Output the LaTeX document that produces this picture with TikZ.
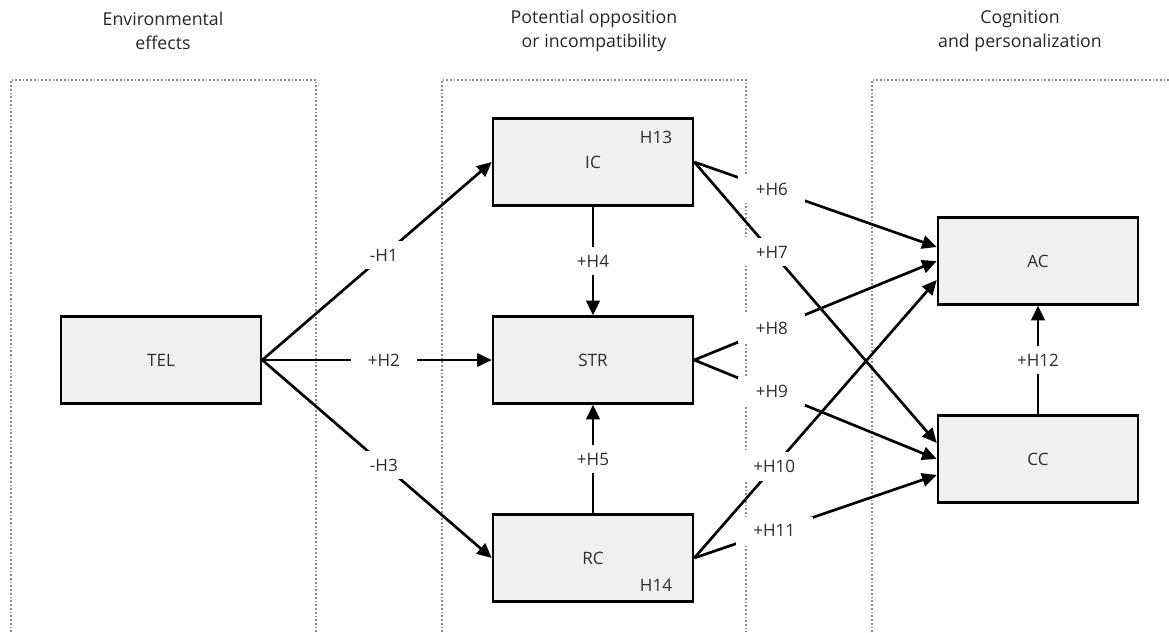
\documentclass[tikz,border=0pt]{standalone}
\usepackage{fontspec}
\setmainfont{Open Sans}
\usetikzlibrary{arrows.meta,calc}
\definecolor{boxfill}{HTML}{F0F0F0}
\definecolor{txt}{HTML}{2E2E2E}
\definecolor{grp}{HTML}{8C8C8C}
\begin{document}
\begin{tikzpicture}[x=0.75pt,y=-0.75pt,
  cbox/.style={draw=black,line width=1.9pt,fill=boxfill,minimum width=150pt,minimum height=65pt,inner sep=0pt,text=txt,font=\fontsize{12.8}{14}\selectfont},
  heading/.style={align=center,text=black!85,font=\fontsize{13.3}{18.5}\selectfont},
  grpline/.style={draw=grp,line width=1.6pt,dash pattern=on 1.3pt off 1.5pt},
  conn/.style={line width=2pt,-{Triangle[length=11pt,width=10pt]}},
  lbl/.style={fill=white,text=txt,inner xsep=13pt,inner ysep=6pt,font=\fontsize{12.8}{14}\selectfont},
  tag/.style={text=txt,font=\fontsize{12.8}{14}\selectfont,inner sep=0pt}]
\useasboundingbox (0,0) rectangle (1169,632);
% groups
\draw[grpline] (11,632) -- (11,80) -- (316,80) -- (316,632);
\draw[grpline] (442,632) -- (442,80) -- (746,80) -- (746,632);
\draw[grpline] (872,632) -- (872,80) -- (1169,80);
\node[heading] (h1) at (163,31) {Environmental\\effects};
\node[heading] (h2) at (594,31) {Potential opposition\\or incompatibility};
\node[heading] (h3) at (1020,31) {Cognition\\and personalization};
% nodes
\node[cbox] (TEL) at (161,360) {TEL};
\node[cbox] (IC) at (593,162) {IC};
\node[cbox] (STR) at (593,360) {STR};
\node[cbox] (RC) at (593,558) {RC};
\node[cbox] (AC) at (1038,261) {AC};
\node[cbox] (CC) at (1038,459) {CC};
\node[tag] (t13) at (656,137) {H13};
\node[tag] (t14) at (656,585) {H14};
% connectors
\draw[conn] (TEL.east) -- node[lbl,pos=0.53] {-H1} (IC.west);
\draw[conn] (TEL.east) -- node[lbl,pos=0.53] {+H2} (STR.west);
\draw[conn] (TEL.east) -- node[lbl,pos=0.53] {-H3} (RC.west);
\draw[conn] (IC.south) -- node[lbl] {+H4} (STR.north);
\draw[conn] (RC.north) -- node[lbl] {+H5} (STR.south);
\draw[conn] (IC.east) -- node[lbl,pos=0.32] {+H6} ($(AC.west)+(0,-14)$);
\draw[conn] (IC.east) -- node[lbl,pos=0.32] {+H7} ($(CC.west)+(0,-16)$);
\draw[conn] (STR.east) -- node[lbl,pos=0.32] {+H8} (AC.west);
\draw[conn] (STR.east) -- node[lbl,pos=0.32] {+H9} (CC.west);
\draw[conn] (RC.east) -- node[lbl,pos=0.33] {+H10} ($(AC.west)+(0,19)$);
\draw[conn] (RC.east) -- node[lbl,pos=0.33] {+H11} ($(CC.west)+(0,16)$);
\draw[conn] (CC.north) -- node[lbl] {+H12} (AC.south);
\end{tikzpicture}
\end{document}
